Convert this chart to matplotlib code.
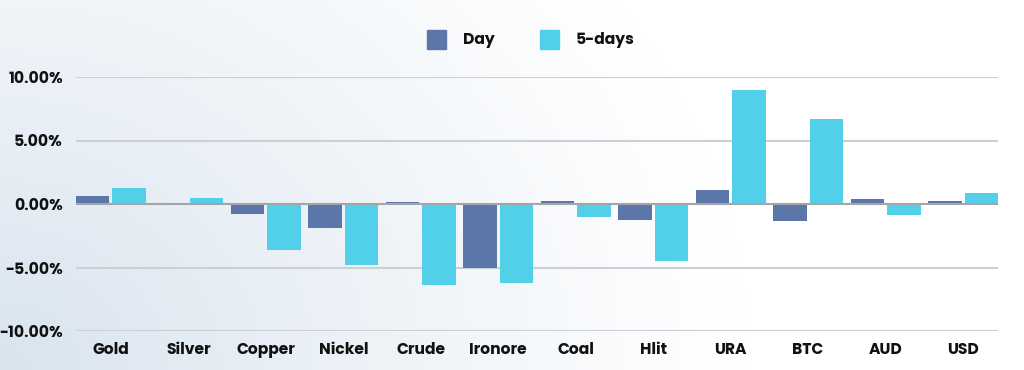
import numpy as np
import matplotlib
matplotlib.use("Agg")
import matplotlib.pyplot as plt
from matplotlib.patches import Rectangle

categories = ["Gold", "Silver", "Copper", "Nickel", "Crude", "Ironore",
              "Coal", "Hlit", "URA", "BTC", "AUD", "USD"]
day = [0.63, 0.02, -0.79, -1.92, 0.13, -5.04, 0.24, -1.29, 1.08, -1.34, 0.39, 0.21]
five_days = [1.23, 0.47, -3.62, -4.83, -6.35, -6.19, -1.05, -4.46, 9.0, 6.67, -0.84, 0.87]
yticks = [-10, -5, 0, 5, 10]
ytick_labels = ["-10.00%", "-5.00%", "0.00%", "5.00%", "10.00%"]

day_color = "#5b76a9"
five_color = "#52d0ea"
text_color = "#111111"
font = ["Poppins", "Open Sans", "DejaVu Sans"]

W, H = 1024, 370
fig = plt.figure(figsize=(W / 100, H / 100), dpi=100)

# background gradient
bg = fig.add_axes([0, 0, 1, 1], zorder=-10)
yy, xx = np.mgrid[0:H, 0:W]
d = np.sqrt(((xx) / 750.0) ** 2 + ((H - yy) / 650.0) ** 2)
w = np.clip(1.0 - d, 0, 1) ** 1.1
base = np.array([0xd9, 0xe4, 0xef]) / 255.0
img = 1.0 - w[..., None] * (1.0 - base)
bg.imshow(img, aspect="auto", extent=[0, 1, 0, 1], origin="upper")
bg.axis("off")

left, right = 76 / W, 998 / W
bottom, top = 1 - 331 / H, 1 - 77 / H
ax = fig.add_axes([left, bottom, right - left, top - bottom])
ax.patch.set_alpha(0)

x = np.arange(len(categories))
bw = 0.43
ax.bar(x - 0.235, day, width=bw, color=day_color, zorder=3)
ax.bar(x + 0.235, five_days, width=bw, color=five_color, zorder=3)

ax.set_xlim(-0.45, len(categories) - 0.55)
ax.set_ylim(-10, 10)
ax.set_yticks(yticks)
ax.set_yticklabels(ytick_labels)
ax.set_xticks(x)
ax.set_xticklabels(categories)
for t in ax.get_yticklabels() + ax.get_xticklabels():
    t.set_fontfamily(font)
    t.set_fontweight("bold")
    t.set_fontsize(11.2)
    t.set_color(text_color)
ax.tick_params(axis="y", length=0, pad=9.5)
ax.tick_params(axis="x", length=0, pad=8)
for s in ax.spines.values():
    s.set_visible(False)
for yv in yticks:
    ax.axhline(yv, color="#a3a5a8" if yv == 0 else "#cdcfd2",
               lw=1.5, zorder=4 if yv == 0 else 1)

# legend
lax = fig.add_axes([0, 0, 1, 1], zorder=5)
lax.set_xlim(0, W)
lax.set_ylim(H, 0)
lax.axis("off")
lax.add_patch(Rectangle((427, 30), 19, 19, color=day_color))
lax.text(463, 40, "Day", fontsize=11.2, fontweight="bold", family=font,
         color=text_color, va="center", ha="left")
lax.add_patch(Rectangle((540, 30), 19, 19, color=five_color))
lax.text(576, 40, "5-days", fontsize=11.2, fontweight="bold", family=font,
         color=text_color, va="center", ha="left")

fig.savefig("out.png", dpi=100)
